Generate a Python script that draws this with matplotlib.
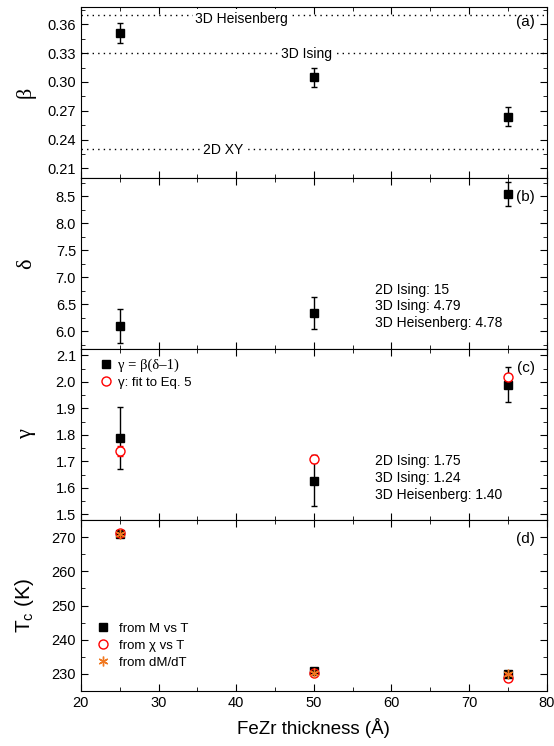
import matplotlib
matplotlib.use("Agg")
import matplotlib.pyplot as plt
from matplotlib.ticker import MultipleLocator, FormatStrFormatter
from matplotlib.lines import Line2D

plt.rcParams["font.family"] = ["Liberation Sans", "DejaVu Sans"]

# FeZr thickness (A)
thickness = [25, 50, 75]

beta = [0.351, 0.305, 0.264]
beta_err = [0.010, 0.010, 0.010]
beta_refs = [0.37, 0.33, 0.23]
beta_ref_names = ["3D Heisenberg", "3D Ising", "2D XY"]

delta = [6.10, 6.34, 8.54]
delta_err = [0.31, 0.29, 0.22]

gamma_calc = [1.79, 1.628, 1.99]
gamma_calc_err = [0.117, 0.098, 0.066]
gamma_fit = [1.74, 1.71, 2.02]
gamma_fit_err = [0.02, 0.015, 0.01]

tc_mt = [271.0, 230.8, 229.9]
tc_chi = [271.3, 230.2, 228.8]
tc_dmdt = [270.9, 230.3, 229.8]

fig, axes = plt.subplots(4, 1, figsize=(5.54, 7.46), dpi=100, sharex=True)
plt.subplots_adjust(left=0.146, right=0.987, top=0.9906, bottom=0.0737, hspace=0)

tick_fs = 10.5
for ax in axes:
    ax.tick_params(which="both", direction="in", top=True, right=True, labelsize=tick_fs)
    ax.tick_params(which="major", length=5)
    ax.tick_params(which="minor", length=3)
    ax.xaxis.set_major_locator(MultipleLocator(10))
    ax.xaxis.set_minor_locator(MultipleLocator(5))

eb = dict(capsize=2.5, elinewidth=1, capthick=1)
ann_fs = 10

# (a) beta
ax = axes[0]
ax.errorbar(thickness, beta, yerr=beta_err, fmt="s", color="black", ms=6, **eb)
label_x = [40.7, 49.0, 38.3]
label_dy = [-0.004, -0.001, -0.001]
for val, name, lx, dy in zip(beta_refs, beta_ref_names, label_x, label_dy):
    ax.axhline(val, color="black", ls=(0, (1, 3)), lw=1)
    ax.text(lx, val + dy, name, ha="center", va="center", fontsize=ann_fs,
            bbox=dict(facecolor="white", edgecolor="none", pad=1.5))
ax.set_ylim(0.2, 0.378)
ax.yaxis.set_major_locator(MultipleLocator(0.03))
ax.yaxis.set_minor_locator(MultipleLocator(0.015))
ax.yaxis.set_major_formatter(FormatStrFormatter("%.2f"))
ax.set_ylabel("β", fontsize=16, family="Liberation Serif")
ax.text(0.975, 0.91, "(a)", transform=ax.transAxes, ha="right", va="center", fontsize=11)

# (b) delta
ax = axes[1]
ax.errorbar(thickness, delta, yerr=delta_err, fmt="s", color="black", ms=6, **eb)
ax.set_ylim(5.67, 8.84)
ax.yaxis.set_major_locator(MultipleLocator(0.5))
ax.yaxis.set_minor_locator(MultipleLocator(0.25))
ax.yaxis.set_major_formatter(FormatStrFormatter("%.1f"))
ax.set_ylabel("δ", fontsize=16, family="Liberation Serif")
ax.text(0.975, 0.89, "(b)", transform=ax.transAxes, ha="right", va="center", fontsize=11)
ax.text(0.631, 0.249, "2D Ising: 15\n3D Ising: 4.79\n3D Heisenberg: 4.78",
        transform=ax.transAxes, ha="left", va="center", fontsize=ann_fs, linespacing=1.25)

# (c) gamma
ax = axes[2]
ax.errorbar(thickness, gamma_calc, yerr=gamma_calc_err, fmt="s", color="black", ms=6, **eb)
ax.errorbar(thickness, gamma_fit, yerr=gamma_fit_err, fmt="o", color="red", mfc="white",
            ms=6.5, **eb)
ax.set_ylim(1.479, 2.124)
ax.yaxis.set_major_locator(MultipleLocator(0.1))
ax.yaxis.set_minor_locator(MultipleLocator(0.05))
ax.yaxis.set_major_formatter(FormatStrFormatter("%.1f"))
ax.set_ylabel("γ", fontsize=16, family="Liberation Serif")
ax.text(0.975, 0.89, "(c)", transform=ax.transAxes, ha="right", va="center", fontsize=11)
ax.text(0.631, 0.247, "2D Ising: 1.75\n3D Ising: 1.24\n3D Heisenberg: 1.40",
        transform=ax.transAxes, ha="left", va="center", fontsize=ann_fs, linespacing=1.25)
handles = [Line2D([], [], ls="none", marker="s", color="black", ms=6),
           Line2D([], [], ls="none", marker="o", color="red", mfc="white", ms=6.5)]
leg = ax.legend(handles, ["γ = β(δ–1)", "γ: fit to Eq. 5"], loc="upper left",
                bbox_to_anchor=(0.025, 0.975), frameon=False, fontsize=9.5,
                handletextpad=0.3, handlelength=1.2, labelspacing=0.35, borderaxespad=0)
leg.get_texts()[0].set_family("Liberation Serif")
leg.get_texts()[0].set_fontsize(10.5)

# (d) Tc
ax = axes[3]
ax.plot(thickness, tc_mt, "s", color="black", ms=6, label="from M vs T")
ax.plot(thickness, tc_chi, "o", color="red", mfc="none", ms=6.5, label="from χ vs T")
ax.plot(thickness, tc_dmdt, marker=(6, 2, 0), ls="none", color="#f07820", ms=7,
        mew=1, label="from dM/dT")
ax.set_ylim(224.95, 275.05)
ax.yaxis.set_major_locator(MultipleLocator(10))
ax.yaxis.set_minor_locator(MultipleLocator(5))
ax.set_ylabel("T$_\\mathregular{c}$ (K)", fontsize=15)
ax.text(0.975, 0.89, "(d)", transform=ax.transAxes, ha="right", va="center", fontsize=11)
ax.legend(loc="center left", bbox_to_anchor=(0.02, 0.265), frameon=False, fontsize=9.5,
          handletextpad=0.6, handlelength=1.2, labelspacing=0.35, borderaxespad=0)

ax.set_xlim(20, 80)
ax.set_xlabel("FeZr thickness (Å)", fontsize=13.5, labelpad=6)

for ax in axes:
    ax.yaxis.set_label_coords(-0.097, 0.5)

fig.savefig("out.png", dpi=100, facecolor="white")
